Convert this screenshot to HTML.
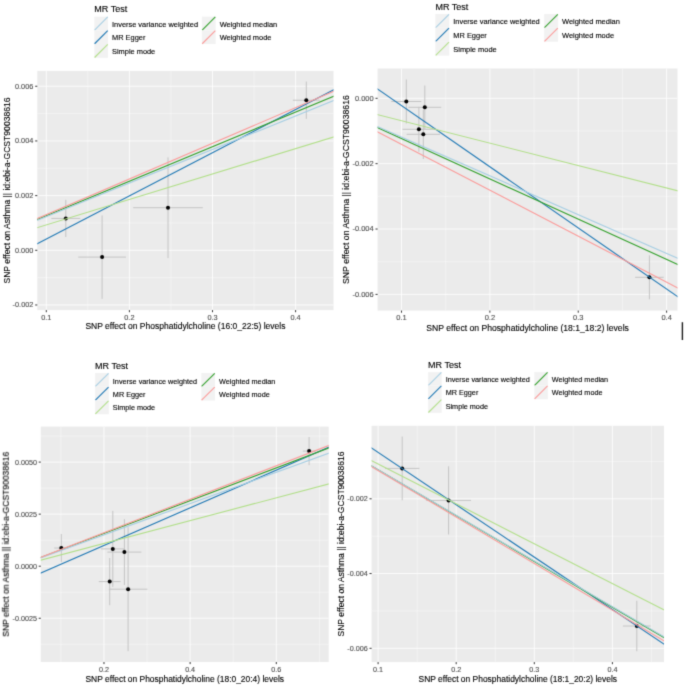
<!DOCTYPE html>
<html><head><meta charset="utf-8"><style>
html,body{margin:0;padding:0;background:#fff;}
svg{display:block;}
text{font-family:"Liberation Sans", sans-serif;stroke-width:0.12px;paint-order:stroke;}
</style></head><body>
<svg width="685" height="686" viewBox="0 0 685 686">
<defs><filter id="bl" x="0" y="0" width="685" height="686" filterUnits="userSpaceOnUse" color-interpolation-filters="sRGB"><feConvolveMatrix order="5" kernelMatrix="0.00000 0.00013 0.00070 0.00013 0.00000 0.00013 0.01910 0.09973 0.01910 0.00013 0.00070 0.09973 0.52080 0.09973 0.00070 0.00013 0.01910 0.09973 0.01910 0.00013 0.00000 0.00013 0.00070 0.00013 0.00000" divisor="0.99996" edgeMode="duplicate"/></filter></defs>
<rect width="685" height="686" fill="#fff"/>
<g filter="url(#bl)">
<rect width="685" height="686" fill="#fff"/>
<clipPath id="c0"><rect x="37.3" y="70.9" width="296.2" height="239.2"/></clipPath>
<rect x="37.3" y="70.9" width="296.2" height="239.2" fill="#ebebeb"/>
<g clip-path="url(#c0)">
<line x1="87.85" y1="70.9" x2="87.85" y2="310.1" stroke="#fff" stroke-width="0.4"/>
<line x1="170.95" y1="70.9" x2="170.95" y2="310.1" stroke="#fff" stroke-width="0.4"/>
<line x1="254.05" y1="70.9" x2="254.05" y2="310.1" stroke="#fff" stroke-width="0.4"/>
<line x1="37.3" y1="113.6" x2="333.5" y2="113.6" stroke="#fff" stroke-width="0.4"/>
<line x1="37.3" y1="168.28" x2="333.5" y2="168.28" stroke="#fff" stroke-width="0.4"/>
<line x1="37.3" y1="222.96" x2="333.5" y2="222.96" stroke="#fff" stroke-width="0.4"/>
<line x1="37.3" y1="277.64" x2="333.5" y2="277.64" stroke="#fff" stroke-width="0.4"/>
<line x1="46.3" y1="70.9" x2="46.3" y2="310.1" stroke="#fff" stroke-width="0.82"/>
<line x1="129.4" y1="70.9" x2="129.4" y2="310.1" stroke="#fff" stroke-width="0.82"/>
<line x1="212.5" y1="70.9" x2="212.5" y2="310.1" stroke="#fff" stroke-width="0.82"/>
<line x1="295.6" y1="70.9" x2="295.6" y2="310.1" stroke="#fff" stroke-width="0.82"/>
<line x1="37.3" y1="86.26" x2="333.5" y2="86.26" stroke="#fff" stroke-width="0.82"/>
<line x1="37.3" y1="140.94" x2="333.5" y2="140.94" stroke="#fff" stroke-width="0.82"/>
<line x1="37.3" y1="195.62" x2="333.5" y2="195.62" stroke="#fff" stroke-width="0.82"/>
<line x1="37.3" y1="250.3" x2="333.5" y2="250.3" stroke="#fff" stroke-width="0.82"/>
<line x1="37.3" y1="304.98" x2="333.5" y2="304.98" stroke="#fff" stroke-width="0.82"/>
<line x1="65.8" y1="199.8" x2="65.8" y2="237" stroke="#c4c4c4" stroke-width="1.0"/>
<line x1="51.3" y1="218.4" x2="80.3" y2="218.4" stroke="#c4c4c4" stroke-width="1.0"/>
<line x1="102.1" y1="215.4" x2="102.1" y2="298.8" stroke="#c4c4c4" stroke-width="1.0"/>
<line x1="78.25" y1="257.1" x2="125.95" y2="257.1" stroke="#c4c4c4" stroke-width="1.0"/>
<line x1="168" y1="157.35" x2="168" y2="258.05" stroke="#c4c4c4" stroke-width="1.0"/>
<line x1="133.2" y1="207.7" x2="202.8" y2="207.7" stroke="#c4c4c4" stroke-width="1.0"/>
<line x1="306.3" y1="81.55" x2="306.3" y2="118.85" stroke="#c4c4c4" stroke-width="1.0"/>
<line x1="292.9" y1="100.2" x2="319.7" y2="100.2" stroke="#c4c4c4" stroke-width="1.0"/>
<circle cx="65.8" cy="218.4" r="2.0" fill="#000"/>
<circle cx="102.1" cy="257.1" r="2.0" fill="#000"/>
<circle cx="168" cy="207.7" r="2.0" fill="#000"/>
<circle cx="306.3" cy="100.2" r="2.0" fill="#000"/>
<line x1="35.3" y1="244.84" x2="335.5" y2="88.76" stroke="#1f78b4" stroke-width="1.12"/>
<line x1="35.3" y1="220.33" x2="335.5" y2="95.53" stroke="#33a02c" stroke-width="1.12"/>
<line x1="35.3" y1="221.16" x2="335.5" y2="99.85" stroke="#a6cee3" stroke-width="1.12"/>
<line x1="35.3" y1="228.24" x2="335.5" y2="136.38" stroke="#b2df8a" stroke-width="1.12"/>
<line x1="35.3" y1="219.35" x2="335.5" y2="90.51" stroke="#fb9a99" stroke-width="1.12"/>
</g>
<line x1="46.3" y1="310.1" x2="46.3" y2="312.2" stroke="#333333" stroke-width="1"/>
<text x="46.3" y="319.8" text-anchor="middle" font-size="7.35" fill="#4d4d4d" stroke="#4d4d4d">0.1</text>
<line x1="129.4" y1="310.1" x2="129.4" y2="312.2" stroke="#333333" stroke-width="1"/>
<text x="129.4" y="319.8" text-anchor="middle" font-size="7.35" fill="#4d4d4d" stroke="#4d4d4d">0.2</text>
<line x1="212.5" y1="310.1" x2="212.5" y2="312.2" stroke="#333333" stroke-width="1"/>
<text x="212.5" y="319.8" text-anchor="middle" font-size="7.35" fill="#4d4d4d" stroke="#4d4d4d">0.3</text>
<line x1="295.6" y1="310.1" x2="295.6" y2="312.2" stroke="#333333" stroke-width="1"/>
<text x="295.6" y="319.8" text-anchor="middle" font-size="7.35" fill="#4d4d4d" stroke="#4d4d4d">0.4</text>
<line x1="35.2" y1="86.26" x2="37.3" y2="86.26" stroke="#333333" stroke-width="1"/>
<text x="33.4" y="88.66" text-anchor="end" font-size="7.35" fill="#4d4d4d" stroke="#4d4d4d">0.006</text>
<line x1="35.2" y1="140.94" x2="37.3" y2="140.94" stroke="#333333" stroke-width="1"/>
<text x="33.4" y="143.34" text-anchor="end" font-size="7.35" fill="#4d4d4d" stroke="#4d4d4d">0.004</text>
<line x1="35.2" y1="195.62" x2="37.3" y2="195.62" stroke="#333333" stroke-width="1"/>
<text x="33.4" y="198.02" text-anchor="end" font-size="7.35" fill="#4d4d4d" stroke="#4d4d4d">0.002</text>
<line x1="35.2" y1="250.3" x2="37.3" y2="250.3" stroke="#333333" stroke-width="1"/>
<text x="33.4" y="252.7" text-anchor="end" font-size="7.35" fill="#4d4d4d" stroke="#4d4d4d">0.000</text>
<line x1="35.2" y1="304.98" x2="37.3" y2="304.98" stroke="#333333" stroke-width="1"/>
<text x="33.4" y="307.38" text-anchor="end" font-size="7.35" fill="#4d4d4d" stroke="#4d4d4d">-0.002</text>
<text x="185.4" y="329.2" text-anchor="middle" font-size="8.5" fill="#000" stroke="#000">SNP effect on Phosphatidylcholine (16:0_22:5) levels</text>
<text transform="translate(9.6 190.5) rotate(-90)" x="0" y="0" text-anchor="middle" font-size="8.6" fill="#000" stroke="#000">SNP effect on Asthma || id:ebi-a-GCST90038616</text>
<text x="94.3" y="12.4" font-size="9.0" fill="#000" stroke="#000">MR Test</text>
<rect x="94.3" y="16.6" width="13.73" height="13.73" fill="#f2f2f2"/>
<line x1="94.6" y1="30.03" x2="107.73" y2="16.9" stroke="#a6cee3" stroke-width="1.12"/>
<text x="112.03" y="26.57" font-size="7.42" fill="#000" stroke="#000">Inverse variance weighted</text>
<rect x="94.3" y="30.33" width="13.73" height="13.73" fill="#f2f2f2"/>
<line x1="94.6" y1="43.76" x2="107.73" y2="30.63" stroke="#1f78b4" stroke-width="1.12"/>
<text x="112.03" y="40" font-size="7.42" fill="#000" stroke="#000">MR Egger</text>
<rect x="94.3" y="44.06" width="13.73" height="13.73" fill="#f2f2f2"/>
<line x1="94.6" y1="57.49" x2="107.73" y2="44.36" stroke="#b2df8a" stroke-width="1.12"/>
<text x="112.03" y="53.73" font-size="7.42" fill="#000" stroke="#000">Simple mode</text>
<rect x="201.9" y="16.6" width="13.73" height="13.73" fill="#f2f2f2"/>
<line x1="202.2" y1="30.03" x2="215.33" y2="16.9" stroke="#33a02c" stroke-width="1.12"/>
<text x="219.63" y="26.57" font-size="7.42" fill="#000" stroke="#000">Weighted median</text>
<rect x="201.9" y="30.33" width="13.73" height="13.73" fill="#f2f2f2"/>
<line x1="202.2" y1="43.76" x2="215.33" y2="30.63" stroke="#fb9a99" stroke-width="1.12"/>
<text x="219.63" y="40" font-size="7.42" fill="#000" stroke="#000">Weighted mode</text>
<clipPath id="c1"><rect x="377.6" y="68.5" width="299.9" height="242.1"/></clipPath>
<rect x="377.6" y="68.5" width="299.9" height="242.1" fill="#ebebeb"/>
<g clip-path="url(#c1)">
<line x1="445.69" y1="68.5" x2="445.69" y2="310.6" stroke="#fff" stroke-width="0.4"/>
<line x1="534.06" y1="68.5" x2="534.06" y2="310.6" stroke="#fff" stroke-width="0.4"/>
<line x1="622.42" y1="68.5" x2="622.42" y2="310.6" stroke="#fff" stroke-width="0.4"/>
<line x1="377.6" y1="130.98" x2="677.5" y2="130.98" stroke="#fff" stroke-width="0.4"/>
<line x1="377.6" y1="196.34" x2="677.5" y2="196.34" stroke="#fff" stroke-width="0.4"/>
<line x1="377.6" y1="261.7" x2="677.5" y2="261.7" stroke="#fff" stroke-width="0.4"/>
<line x1="401.5" y1="68.5" x2="401.5" y2="310.6" stroke="#fff" stroke-width="0.82"/>
<line x1="489.87" y1="68.5" x2="489.87" y2="310.6" stroke="#fff" stroke-width="0.82"/>
<line x1="578.24" y1="68.5" x2="578.24" y2="310.6" stroke="#fff" stroke-width="0.82"/>
<line x1="666.61" y1="68.5" x2="666.61" y2="310.6" stroke="#fff" stroke-width="0.82"/>
<line x1="377.6" y1="98.3" x2="677.5" y2="98.3" stroke="#fff" stroke-width="0.82"/>
<line x1="377.6" y1="163.66" x2="677.5" y2="163.66" stroke="#fff" stroke-width="0.82"/>
<line x1="377.6" y1="229.02" x2="677.5" y2="229.02" stroke="#fff" stroke-width="0.82"/>
<line x1="377.6" y1="294.38" x2="677.5" y2="294.38" stroke="#fff" stroke-width="0.82"/>
<line x1="406.3" y1="79.5" x2="406.3" y2="123.5" stroke="#c4c4c4" stroke-width="1.0"/>
<line x1="391.3" y1="101.5" x2="421.3" y2="101.5" stroke="#c4c4c4" stroke-width="1.0"/>
<line x1="424.8" y1="85.5" x2="424.8" y2="129.1" stroke="#c4c4c4" stroke-width="1.0"/>
<line x1="408.4" y1="107.3" x2="441.2" y2="107.3" stroke="#c4c4c4" stroke-width="1.0"/>
<line x1="418.9" y1="106.9" x2="418.9" y2="151.7" stroke="#c4c4c4" stroke-width="1.0"/>
<line x1="402.5" y1="129.3" x2="435.3" y2="129.3" stroke="#c4c4c4" stroke-width="1.0"/>
<line x1="423.3" y1="109.6" x2="423.3" y2="159" stroke="#c4c4c4" stroke-width="1.0"/>
<line x1="406.6" y1="134.3" x2="440" y2="134.3" stroke="#c4c4c4" stroke-width="1.0"/>
<line x1="649.4" y1="255.3" x2="649.4" y2="299.3" stroke="#c4c4c4" stroke-width="1.0"/>
<line x1="635.1" y1="277.3" x2="663.7" y2="277.3" stroke="#c4c4c4" stroke-width="1.0"/>
<circle cx="406.3" cy="101.5" r="2.0" fill="#000"/>
<circle cx="424.8" cy="107.3" r="2.0" fill="#000"/>
<circle cx="418.9" cy="129.3" r="2.0" fill="#000"/>
<circle cx="423.3" cy="134.3" r="2.0" fill="#000"/>
<circle cx="649.4" cy="277.3" r="2.0" fill="#000"/>
<line x1="375.6" y1="87.72" x2="679.5" y2="297.98" stroke="#1f78b4" stroke-width="1.12"/>
<line x1="375.6" y1="126.78" x2="679.5" y2="265.23" stroke="#33a02c" stroke-width="1.12"/>
<line x1="375.6" y1="125.73" x2="679.5" y2="259.11" stroke="#a6cee3" stroke-width="1.12"/>
<line x1="375.6" y1="114.14" x2="679.5" y2="191.18" stroke="#b2df8a" stroke-width="1.12"/>
<line x1="375.6" y1="130.8" x2="679.5" y2="288.83" stroke="#fb9a99" stroke-width="1.12"/>
</g>
<line x1="401.5" y1="310.6" x2="401.5" y2="312.7" stroke="#333333" stroke-width="1"/>
<text x="401.5" y="320.3" text-anchor="middle" font-size="7.5" fill="#4d4d4d" stroke="#4d4d4d">0.1</text>
<line x1="489.87" y1="310.6" x2="489.87" y2="312.7" stroke="#333333" stroke-width="1"/>
<text x="489.87" y="320.3" text-anchor="middle" font-size="7.5" fill="#4d4d4d" stroke="#4d4d4d">0.2</text>
<line x1="578.24" y1="310.6" x2="578.24" y2="312.7" stroke="#333333" stroke-width="1"/>
<text x="578.24" y="320.3" text-anchor="middle" font-size="7.5" fill="#4d4d4d" stroke="#4d4d4d">0.3</text>
<line x1="666.61" y1="310.6" x2="666.61" y2="312.7" stroke="#333333" stroke-width="1"/>
<text x="666.61" y="320.3" text-anchor="middle" font-size="7.5" fill="#4d4d4d" stroke="#4d4d4d">0.4</text>
<line x1="375.5" y1="98.3" x2="377.6" y2="98.3" stroke="#333333" stroke-width="1"/>
<text x="373.7" y="100.7" text-anchor="end" font-size="7.5" fill="#4d4d4d" stroke="#4d4d4d">0.000</text>
<line x1="375.5" y1="163.66" x2="377.6" y2="163.66" stroke="#333333" stroke-width="1"/>
<text x="373.7" y="166.06" text-anchor="end" font-size="7.5" fill="#4d4d4d" stroke="#4d4d4d">-0.002</text>
<line x1="375.5" y1="229.02" x2="377.6" y2="229.02" stroke="#333333" stroke-width="1"/>
<text x="373.7" y="231.42" text-anchor="end" font-size="7.5" fill="#4d4d4d" stroke="#4d4d4d">-0.004</text>
<line x1="375.5" y1="294.38" x2="377.6" y2="294.38" stroke="#333333" stroke-width="1"/>
<text x="373.7" y="296.78" text-anchor="end" font-size="7.5" fill="#4d4d4d" stroke="#4d4d4d">-0.006</text>
<text x="527.55" y="330.6" text-anchor="middle" font-size="8.62" fill="#000" stroke="#000">SNP effect on Phosphatidylcholine (18:1_18:2) levels</text>
<text transform="translate(348.6 189.55) rotate(-90)" x="0" y="0" text-anchor="middle" font-size="8.719999999999999" fill="#000" stroke="#000">SNP effect on Asthma || id:ebi-a-GCST90038616</text>
<text x="435.4" y="9.8" font-size="9.0" fill="#000" stroke="#000">MR Test</text>
<rect x="435.4" y="14" width="13.87" height="13.87" fill="#f2f2f2"/>
<line x1="435.7" y1="27.57" x2="448.97" y2="14.3" stroke="#a6cee3" stroke-width="1.12"/>
<text x="453.27" y="24.43" font-size="7.45" fill="#000" stroke="#000">Inverse variance weighted</text>
<rect x="435.4" y="27.87" width="13.87" height="13.87" fill="#f2f2f2"/>
<line x1="435.7" y1="41.44" x2="448.97" y2="28.17" stroke="#1f78b4" stroke-width="1.12"/>
<text x="453.27" y="37.91" font-size="7.45" fill="#000" stroke="#000">MR Egger</text>
<rect x="435.4" y="41.74" width="13.87" height="13.87" fill="#f2f2f2"/>
<line x1="435.7" y1="55.31" x2="448.97" y2="42.04" stroke="#b2df8a" stroke-width="1.12"/>
<text x="453.27" y="51.67" font-size="7.45" fill="#000" stroke="#000">Simple mode</text>
<rect x="544.2" y="14" width="13.87" height="13.87" fill="#f2f2f2"/>
<line x1="544.5" y1="27.57" x2="557.77" y2="14.3" stroke="#33a02c" stroke-width="1.12"/>
<text x="562.07" y="24.43" font-size="7.45" fill="#000" stroke="#000">Weighted median</text>
<rect x="544.2" y="27.87" width="13.87" height="13.87" fill="#f2f2f2"/>
<line x1="544.5" y1="41.44" x2="557.77" y2="28.17" stroke="#fb9a99" stroke-width="1.12"/>
<text x="562.07" y="37.91" font-size="7.45" fill="#000" stroke="#000">Weighted mode</text>
<clipPath id="c2"><rect x="40.8" y="426.6" width="287.9" height="235.4"/></clipPath>
<rect x="40.8" y="426.6" width="287.9" height="235.4" fill="#ebebeb"/>
<g clip-path="url(#c2)">
<line x1="60.9" y1="426.6" x2="60.9" y2="662" stroke="#fff" stroke-width="0.4"/>
<line x1="147.06" y1="426.6" x2="147.06" y2="662" stroke="#fff" stroke-width="0.4"/>
<line x1="233.22" y1="426.6" x2="233.22" y2="662" stroke="#fff" stroke-width="0.4"/>
<line x1="319.38" y1="426.6" x2="319.38" y2="662" stroke="#fff" stroke-width="0.4"/>
<line x1="40.8" y1="436.08" x2="328.7" y2="436.08" stroke="#fff" stroke-width="0.4"/>
<line x1="40.8" y1="488.13" x2="328.7" y2="488.13" stroke="#fff" stroke-width="0.4"/>
<line x1="40.8" y1="540.18" x2="328.7" y2="540.18" stroke="#fff" stroke-width="0.4"/>
<line x1="40.8" y1="592.23" x2="328.7" y2="592.23" stroke="#fff" stroke-width="0.4"/>
<line x1="40.8" y1="644.28" x2="328.7" y2="644.28" stroke="#fff" stroke-width="0.4"/>
<line x1="103.98" y1="426.6" x2="103.98" y2="662" stroke="#fff" stroke-width="0.82"/>
<line x1="190.14" y1="426.6" x2="190.14" y2="662" stroke="#fff" stroke-width="0.82"/>
<line x1="276.3" y1="426.6" x2="276.3" y2="662" stroke="#fff" stroke-width="0.82"/>
<line x1="40.8" y1="462.1" x2="328.7" y2="462.1" stroke="#fff" stroke-width="0.82"/>
<line x1="40.8" y1="514.15" x2="328.7" y2="514.15" stroke="#fff" stroke-width="0.82"/>
<line x1="40.8" y1="566.2" x2="328.7" y2="566.2" stroke="#fff" stroke-width="0.82"/>
<line x1="40.8" y1="618.25" x2="328.7" y2="618.25" stroke="#fff" stroke-width="0.82"/>
<line x1="61.3" y1="534" x2="61.3" y2="562" stroke="#c4c4c4" stroke-width="1.0"/>
<line x1="54.2" y1="548" x2="68.4" y2="548" stroke="#c4c4c4" stroke-width="1.0"/>
<line x1="112.8" y1="510.9" x2="112.8" y2="586.9" stroke="#c4c4c4" stroke-width="1.0"/>
<line x1="101" y1="548.9" x2="124.6" y2="548.9" stroke="#c4c4c4" stroke-width="1.0"/>
<line x1="124.4" y1="519.2" x2="124.4" y2="585" stroke="#c4c4c4" stroke-width="1.0"/>
<line x1="107.4" y1="552.1" x2="141.4" y2="552.1" stroke="#c4c4c4" stroke-width="1.0"/>
<line x1="109.7" y1="558" x2="109.7" y2="605.2" stroke="#c4c4c4" stroke-width="1.0"/>
<line x1="98.8" y1="581.6" x2="120.6" y2="581.6" stroke="#c4c4c4" stroke-width="1.0"/>
<line x1="128.1" y1="527.2" x2="128.1" y2="651.2" stroke="#c4c4c4" stroke-width="1.0"/>
<line x1="108.8" y1="589.2" x2="147.4" y2="589.2" stroke="#c4c4c4" stroke-width="1.0"/>
<line x1="309.1" y1="437" x2="309.1" y2="465.2" stroke="#c4c4c4" stroke-width="1.0"/>
<line x1="302.8" y1="451.1" x2="315.4" y2="451.1" stroke="#c4c4c4" stroke-width="1.0"/>
<circle cx="61.3" cy="548" r="2.0" fill="#000"/>
<circle cx="112.8" cy="548.9" r="2.0" fill="#000"/>
<circle cx="124.4" cy="552.1" r="2.0" fill="#000"/>
<circle cx="109.7" cy="581.6" r="2.0" fill="#000"/>
<circle cx="128.1" cy="589.2" r="2.0" fill="#000"/>
<circle cx="309.1" cy="451.1" r="2.0" fill="#000"/>
<line x1="38.8" y1="573.97" x2="330.7" y2="446.43" stroke="#1f78b4" stroke-width="1.12"/>
<line x1="38.8" y1="558.18" x2="330.7" y2="447.29" stroke="#33a02c" stroke-width="1.12"/>
<line x1="38.8" y1="558.54" x2="330.7" y2="452.55" stroke="#a6cee3" stroke-width="1.12"/>
<line x1="38.8" y1="560.62" x2="330.7" y2="483.44" stroke="#b2df8a" stroke-width="1.12"/>
<line x1="38.8" y1="558.01" x2="330.7" y2="444.69" stroke="#fb9a99" stroke-width="1.12"/>
</g>
<line x1="103.98" y1="662" x2="103.98" y2="664.1" stroke="#333333" stroke-width="1"/>
<text x="103.98" y="671.7" text-anchor="middle" font-size="7.2" fill="#4d4d4d" stroke="#4d4d4d">0.2</text>
<line x1="190.14" y1="662" x2="190.14" y2="664.1" stroke="#333333" stroke-width="1"/>
<text x="190.14" y="671.7" text-anchor="middle" font-size="7.2" fill="#4d4d4d" stroke="#4d4d4d">0.4</text>
<line x1="276.3" y1="662" x2="276.3" y2="664.1" stroke="#333333" stroke-width="1"/>
<text x="276.3" y="671.7" text-anchor="middle" font-size="7.2" fill="#4d4d4d" stroke="#4d4d4d">0.6</text>
<line x1="38.7" y1="462.1" x2="40.8" y2="462.1" stroke="#333333" stroke-width="1"/>
<text x="36.9" y="464.5" text-anchor="end" font-size="7.2" fill="#4d4d4d" stroke="#4d4d4d">0.0050</text>
<line x1="38.7" y1="514.15" x2="40.8" y2="514.15" stroke="#333333" stroke-width="1"/>
<text x="36.9" y="516.55" text-anchor="end" font-size="7.2" fill="#4d4d4d" stroke="#4d4d4d">0.0025</text>
<line x1="38.7" y1="566.2" x2="40.8" y2="566.2" stroke="#333333" stroke-width="1"/>
<text x="36.9" y="568.6" text-anchor="end" font-size="7.2" fill="#4d4d4d" stroke="#4d4d4d">0.0000</text>
<line x1="38.7" y1="618.25" x2="40.8" y2="618.25" stroke="#333333" stroke-width="1"/>
<text x="36.9" y="620.65" text-anchor="end" font-size="7.2" fill="#4d4d4d" stroke="#4d4d4d">-0.0025</text>
<text x="184.75" y="681.5" text-anchor="middle" font-size="8.45" fill="#000" stroke="#000">SNP effect on Phosphatidylcholine (18:0_20:4) levels</text>
<text transform="translate(8.8 544.3) rotate(-90)" x="0" y="0" text-anchor="middle" font-size="8.549999999999999" fill="#000" stroke="#000">SNP effect on Asthma || id:ebi-a-GCST90038616</text>
<text x="95.1" y="368.8" font-size="9.0" fill="#000" stroke="#000">MR Test</text>
<rect x="95.1" y="373" width="13.75" height="13.75" fill="#f2f2f2"/>
<line x1="95.4" y1="386.45" x2="108.55" y2="373.3" stroke="#a6cee3" stroke-width="1.12"/>
<text x="112.85" y="383.68" font-size="7.26" fill="#000" stroke="#000">Inverse variance weighted</text>
<rect x="95.1" y="386.75" width="13.75" height="13.75" fill="#f2f2f2"/>
<line x1="95.4" y1="400.2" x2="108.55" y2="387.05" stroke="#1f78b4" stroke-width="1.12"/>
<text x="112.85" y="396.73" font-size="7.26" fill="#000" stroke="#000">MR Egger</text>
<rect x="95.1" y="400.5" width="13.75" height="13.75" fill="#f2f2f2"/>
<line x1="95.4" y1="413.95" x2="108.55" y2="400.8" stroke="#b2df8a" stroke-width="1.12"/>
<text x="112.85" y="409.98" font-size="7.26" fill="#000" stroke="#000">Simple mode</text>
<rect x="201.3" y="373" width="13.75" height="13.75" fill="#f2f2f2"/>
<line x1="201.6" y1="386.45" x2="214.75" y2="373.3" stroke="#33a02c" stroke-width="1.12"/>
<text x="219.05" y="383.68" font-size="7.26" fill="#000" stroke="#000">Weighted median</text>
<rect x="201.3" y="386.75" width="13.75" height="13.75" fill="#f2f2f2"/>
<line x1="201.6" y1="400.2" x2="214.75" y2="387.05" stroke="#fb9a99" stroke-width="1.12"/>
<text x="219.05" y="396.73" font-size="7.26" fill="#000" stroke="#000">Weighted mode</text>
<clipPath id="c3"><rect x="371.6" y="425.8" width="292.4" height="236.3"/></clipPath>
<rect x="371.6" y="425.8" width="292.4" height="236.3" fill="#ebebeb"/>
<g clip-path="url(#c3)">
<line x1="417.15" y1="425.8" x2="417.15" y2="662.1" stroke="#fff" stroke-width="0.4"/>
<line x1="495.25" y1="425.8" x2="495.25" y2="662.1" stroke="#fff" stroke-width="0.4"/>
<line x1="573.35" y1="425.8" x2="573.35" y2="662.1" stroke="#fff" stroke-width="0.4"/>
<line x1="651.45" y1="425.8" x2="651.45" y2="662.1" stroke="#fff" stroke-width="0.4"/>
<line x1="371.6" y1="461.43" x2="664" y2="461.43" stroke="#fff" stroke-width="0.4"/>
<line x1="371.6" y1="536.17" x2="664" y2="536.17" stroke="#fff" stroke-width="0.4"/>
<line x1="371.6" y1="610.92" x2="664" y2="610.92" stroke="#fff" stroke-width="0.4"/>
<line x1="378.1" y1="425.8" x2="378.1" y2="662.1" stroke="#fff" stroke-width="0.82"/>
<line x1="456.2" y1="425.8" x2="456.2" y2="662.1" stroke="#fff" stroke-width="0.82"/>
<line x1="534.3" y1="425.8" x2="534.3" y2="662.1" stroke="#fff" stroke-width="0.82"/>
<line x1="612.4" y1="425.8" x2="612.4" y2="662.1" stroke="#fff" stroke-width="0.82"/>
<line x1="371.6" y1="498.8" x2="664" y2="498.8" stroke="#fff" stroke-width="0.82"/>
<line x1="371.6" y1="573.55" x2="664" y2="573.55" stroke="#fff" stroke-width="0.82"/>
<line x1="371.6" y1="648.3" x2="664" y2="648.3" stroke="#fff" stroke-width="0.82"/>
<line x1="402.2" y1="436.5" x2="402.2" y2="500.3" stroke="#c4c4c4" stroke-width="1.0"/>
<line x1="385" y1="468.4" x2="419.4" y2="468.4" stroke="#c4c4c4" stroke-width="1.0"/>
<line x1="448.6" y1="466.3" x2="448.6" y2="534.5" stroke="#c4c4c4" stroke-width="1.0"/>
<line x1="426.2" y1="500.4" x2="471" y2="500.4" stroke="#c4c4c4" stroke-width="1.0"/>
<line x1="636.8" y1="600.75" x2="636.8" y2="651.25" stroke="#c4c4c4" stroke-width="1.0"/>
<line x1="622.95" y1="626" x2="650.65" y2="626" stroke="#c4c4c4" stroke-width="1.0"/>
<circle cx="402.2" cy="468.4" r="2.0" fill="#000"/>
<circle cx="448.6" cy="500.4" r="2.0" fill="#000"/>
<circle cx="636.8" cy="626" r="2.0" fill="#000"/>
<line x1="369.6" y1="446.66" x2="666" y2="645.44" stroke="#1f78b4" stroke-width="1.12"/>
<line x1="369.6" y1="464.86" x2="666" y2="638.67" stroke="#33a02c" stroke-width="1.12"/>
<line x1="369.6" y1="464.73" x2="666" y2="637.98" stroke="#a6cee3" stroke-width="1.12"/>
<line x1="369.6" y1="459.59" x2="666" y2="610.93" stroke="#b2df8a" stroke-width="1.12"/>
<line x1="369.6" y1="465.5" x2="666" y2="642" stroke="#fb9a99" stroke-width="1.12"/>
</g>
<line x1="378.1" y1="662.1" x2="378.1" y2="664.2" stroke="#333333" stroke-width="1"/>
<text x="378.1" y="671.8" text-anchor="middle" font-size="7.2" fill="#4d4d4d" stroke="#4d4d4d">0.1</text>
<line x1="456.2" y1="662.1" x2="456.2" y2="664.2" stroke="#333333" stroke-width="1"/>
<text x="456.2" y="671.8" text-anchor="middle" font-size="7.2" fill="#4d4d4d" stroke="#4d4d4d">0.2</text>
<line x1="534.3" y1="662.1" x2="534.3" y2="664.2" stroke="#333333" stroke-width="1"/>
<text x="534.3" y="671.8" text-anchor="middle" font-size="7.2" fill="#4d4d4d" stroke="#4d4d4d">0.3</text>
<line x1="612.4" y1="662.1" x2="612.4" y2="664.2" stroke="#333333" stroke-width="1"/>
<text x="612.4" y="671.8" text-anchor="middle" font-size="7.2" fill="#4d4d4d" stroke="#4d4d4d">0.4</text>
<line x1="369.5" y1="498.8" x2="371.6" y2="498.8" stroke="#333333" stroke-width="1"/>
<text x="367.7" y="501.2" text-anchor="end" font-size="7.2" fill="#4d4d4d" stroke="#4d4d4d">-0.002</text>
<line x1="369.5" y1="573.55" x2="371.6" y2="573.55" stroke="#333333" stroke-width="1"/>
<text x="367.7" y="575.95" text-anchor="end" font-size="7.2" fill="#4d4d4d" stroke="#4d4d4d">-0.004</text>
<line x1="369.5" y1="648.3" x2="371.6" y2="648.3" stroke="#333333" stroke-width="1"/>
<text x="367.7" y="650.7" text-anchor="end" font-size="7.2" fill="#4d4d4d" stroke="#4d4d4d">-0.006</text>
<text x="517.8" y="681.5" text-anchor="middle" font-size="8.45" fill="#000" stroke="#000">SNP effect on Phosphatidylcholine (18:1_20:2) levels</text>
<text transform="translate(343.7 543.95) rotate(-90)" x="0" y="0" text-anchor="middle" font-size="8.549999999999999" fill="#000" stroke="#000">SNP effect on Asthma || id:ebi-a-GCST90038616</text>
<text x="428.1" y="367.9" font-size="9.0" fill="#000" stroke="#000">MR Test</text>
<rect x="428.1" y="372.1" width="13.57" height="13.57" fill="#f2f2f2"/>
<line x1="428.4" y1="385.37" x2="441.37" y2="372.4" stroke="#a6cee3" stroke-width="1.12"/>
<text x="445.67" y="381.99" font-size="7.25" fill="#000" stroke="#000">Inverse variance weighted</text>
<rect x="428.1" y="385.67" width="13.57" height="13.57" fill="#f2f2f2"/>
<line x1="428.4" y1="398.94" x2="441.37" y2="385.97" stroke="#1f78b4" stroke-width="1.12"/>
<text x="445.67" y="395.26" font-size="7.25" fill="#000" stroke="#000">MR Egger</text>
<rect x="428.1" y="399.24" width="13.57" height="13.57" fill="#f2f2f2"/>
<line x1="428.4" y1="412.51" x2="441.37" y2="399.54" stroke="#b2df8a" stroke-width="1.12"/>
<text x="445.67" y="408.63" font-size="7.25" fill="#000" stroke="#000">Simple mode</text>
<rect x="534.3" y="372.1" width="13.57" height="13.57" fill="#f2f2f2"/>
<line x1="534.6" y1="385.37" x2="547.57" y2="372.4" stroke="#33a02c" stroke-width="1.12"/>
<text x="551.87" y="381.99" font-size="7.25" fill="#000" stroke="#000">Weighted median</text>
<rect x="534.3" y="385.67" width="13.57" height="13.57" fill="#f2f2f2"/>
<line x1="534.6" y1="398.94" x2="547.57" y2="385.97" stroke="#fb9a99" stroke-width="1.12"/>
<text x="551.87" y="395.26" font-size="7.25" fill="#000" stroke="#000">Weighted mode</text>
<line x1="682.4" y1="322.2" x2="682.4" y2="340" stroke="#1a1a1a" stroke-width="1.4"/>
</g>
</svg>
</body></html>
